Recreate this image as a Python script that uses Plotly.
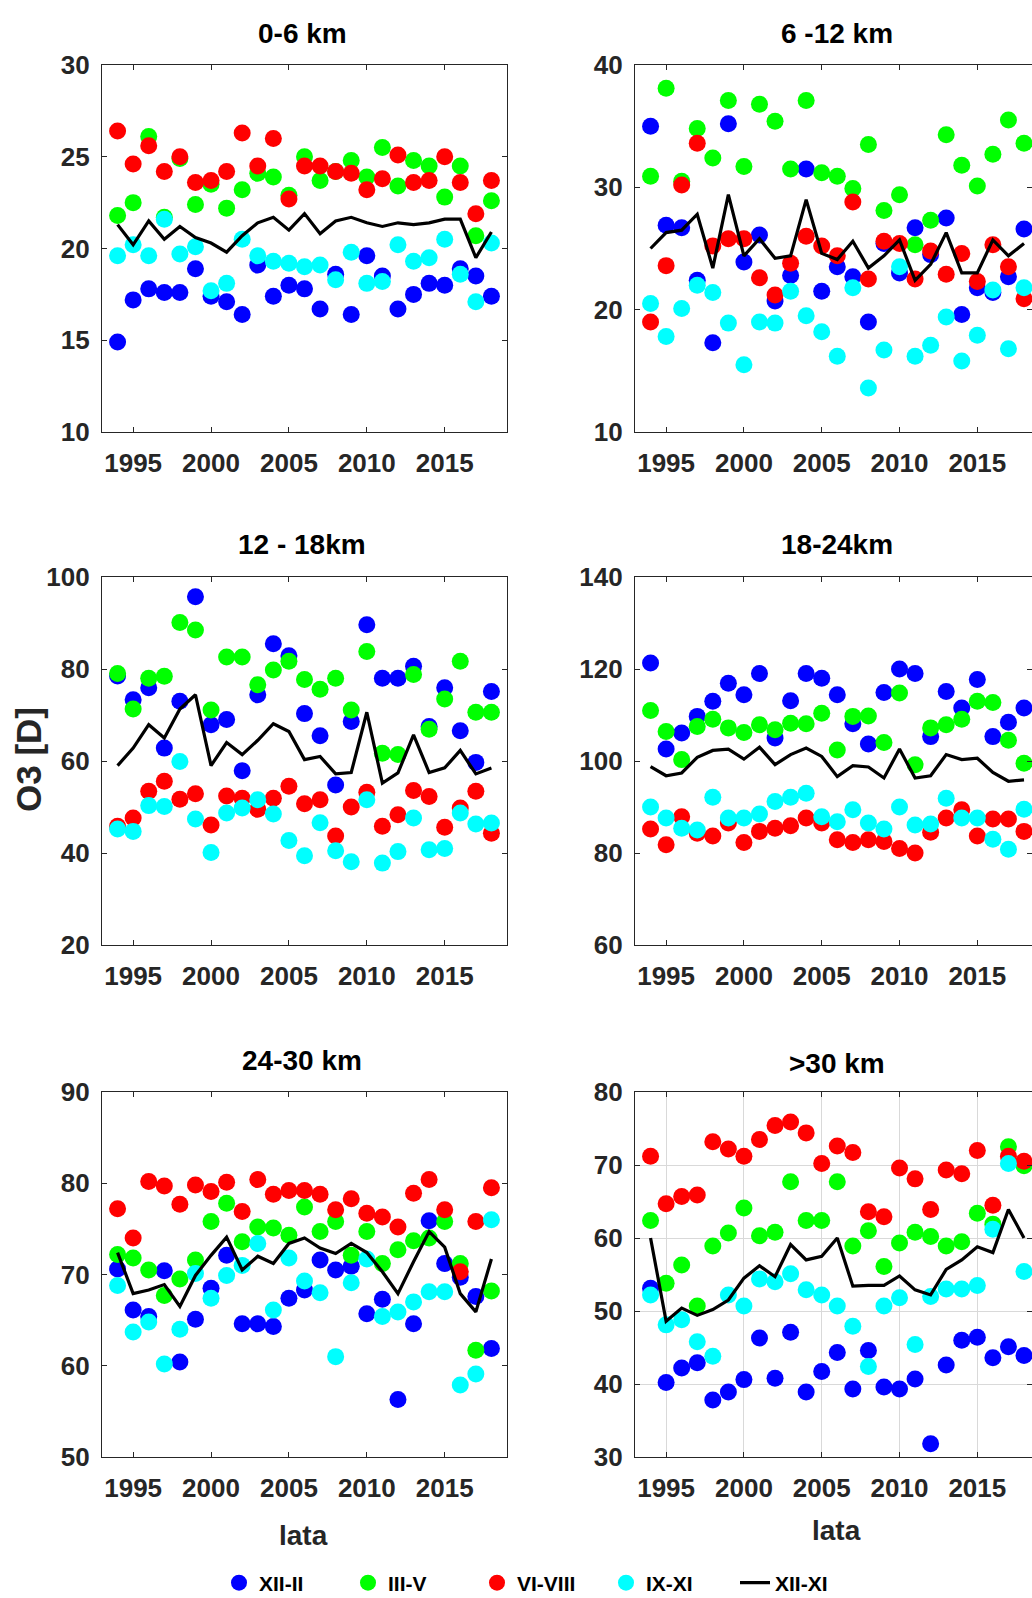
import plotly.graph_objects as go

years = list(range(1994, 2019))
season_names = ["XII-II", "III-V", "VI-VIII", "IX-XI", "XII-XI"]
panel_titles = ["0-6 km", "6 -12 km", "12 - 18km", "18-24km", "24-30 km", ">30 km"]
x_tick_vals = [1995, 2000, 2005, 2010, 2015]
y_ranges = [[10, 30], [10, 40], [20, 100], [60, 140], [50, 90], [30, 80]]
y_tick_vals = [[10, 15, 20, 25, 30], [10, 20, 30, 40], [20, 40, 60, 80, 100],
               [60, 80, 100, 120, 140], [50, 60, 70, 80, 90], [30, 40, 50, 60, 70, 80]]

# ---- 0-6 km ----
p1_blue = [14.9, 17.2, 17.8, 17.6, 17.6, 18.9, 17.4, 17.1, 16.4, 19.1, 17.4, 18.0, 17.8, 16.7, 18.6, 16.4, 19.6, 18.5, 16.7, 17.5, 18.1, 18.0, 18.9, 18.5, 17.4]
p1_green = [21.8, 22.5, 26.1, 21.7, 24.9, 22.4, 23.5, 22.2, 23.2, 24.1, 23.9, 22.9, 25.0, 23.7, 24.2, 24.8, 23.9, 25.5, 23.4, 24.8, 24.5, 22.8, 24.5, 20.7, 22.6]
p1_red = [26.4, 24.6, 25.6, 24.2, 25.0, 23.6, 23.7, 24.2, 26.3, 24.5, 26.0, 22.7, 24.5, 24.5, 24.2, 24.1, 23.2, 23.8, 25.1, 23.6, 23.7, 25.0, 23.6, 21.9, 23.7]
p1_cyan = [19.6, 20.2, 19.6, 21.6, 19.7, 20.1, 17.7, 18.1, 20.5, 19.6, 19.3, 19.2, 19.0, 19.1, 18.3, 19.8, 18.1, 18.2, 20.2, 19.3, 19.5, 20.5, 18.6, 17.1, 20.3]
p1_all = [21.3, 20.2, 21.5, 20.5, 21.2, 20.6, 20.3, 19.8, 20.7, 21.4, 21.7, 21.0, 21.9, 20.8, 21.5, 21.7, 21.4, 21.2, 21.4, 21.3, 21.4, 21.6, 21.6, 19.5, 20.9]

# ---- 6-12 km ----
p2_blue = [35.0, 26.9, 26.7, 22.4, 17.3, 35.2, 23.9, 26.1, 20.7, 22.8, 31.5, 21.5, 23.5, 22.7, 19.0, 25.4, 23.0, 26.7, 24.5, 27.5, 19.6, 21.8, 21.4, 22.7, 26.6]
p2_green = [30.9, 38.1, 30.5, 34.8, 32.4, 37.1, 31.7, 36.8, 35.4, 31.5, 37.1, 31.2, 30.9, 29.9, 33.5, 28.1, 29.4, 25.3, 27.3, 34.3, 31.8, 30.1, 32.7, 35.5, 33.6]
p2_red = [19.0, 23.6, 30.2, 33.6, 25.2, 25.8, 25.8, 22.6, 21.2, 23.8, 26.0, 25.2, 24.4, 28.8, 22.5, 25.6, 25.4, 22.5, 24.8, 22.9, 24.6, 22.3, 25.3, 23.5, 20.9]
p2_cyan = [20.5, 17.8, 20.1, 22.0, 21.4, 18.9, 15.5, 19.0, 18.9, 21.5, 19.5, 18.2, 16.2, 21.8, 13.6, 16.7, 23.5, 16.2, 17.1, 19.4, 15.8, 17.9, 21.6, 16.8, 21.8]
p2_all = [25.0, 26.3, 26.5, 27.8, 23.4, 29.4, 24.4, 25.8, 24.2, 24.4, 29.0, 24.6, 24.1, 25.6, 23.4, 24.4, 25.7, 22.4, 23.7, 26.3, 23.0, 23.0, 25.7, 24.4, 25.4]

# ---- 12-18 km ----
p3_blue = [78.5, 73.3, 75.9, 62.8, 73.0, 95.7, 67.9, 69.0, 57.9, 74.4, 85.5, 82.9, 70.3, 65.5, 54.8, 68.6, 89.6, 78.0, 78.0, 80.6, 67.5, 75.9, 66.6, 59.7, 75.1]
p3_green = [79.0, 71.3, 78.0, 78.4, 90.1, 88.5, 71.1, 82.6, 82.6, 76.6, 79.8, 81.7, 77.7, 75.6, 78.0, 71.1, 83.8, 61.7, 61.4, 78.8, 66.9, 73.5, 81.7, 70.6, 70.6]
p3_red = [45.8, 47.6, 53.4, 55.6, 51.7, 52.9, 46.1, 52.4, 51.9, 49.5, 51.9, 54.5, 50.7, 51.6, 43.7, 50.0, 53.2, 45.8, 48.3, 53.6, 52.3, 45.6, 49.8, 53.4, 44.3]
p3_cyan = [45.2, 44.7, 50.3, 50.1, 59.9, 47.4, 40.1, 48.7, 49.8, 51.6, 48.5, 42.7, 39.4, 46.6, 40.5, 38.1, 51.6, 37.8, 40.3, 47.6, 40.7, 41.0, 48.7, 46.3, 46.5]
p3_all = [59.0, 62.8, 67.9, 65.0, 71.3, 74.4, 59.0, 64.0, 61.4, 64.5, 68.1, 66.4, 60.3, 61.0, 57.2, 57.5, 70.6, 55.2, 57.4, 65.7, 57.5, 58.5, 62.3, 57.2, 58.5]

# ---- 18-24 km ----
p4_blue = [121.3, 102.6, 106.1, 109.7, 113.0, 116.9, 114.4, 119.0, 105.0, 113.1, 119.0, 118.0, 114.4, 108.1, 103.7, 114.9, 120.0, 119.0, 105.3, 115.1, 111.5, 117.7, 105.3, 108.4, 111.5]
p4_green = [111.0, 106.4, 100.3, 107.5, 109.1, 107.2, 106.2, 107.9, 106.8, 108.2, 108.1, 110.4, 102.4, 109.7, 109.8, 104.0, 114.8, 99.2, 107.2, 107.9, 109.1, 113.0, 112.7, 104.5, 99.5]
p4_red = [85.2, 81.8, 87.9, 84.3, 83.7, 86.5, 82.3, 84.7, 85.4, 85.9, 87.6, 86.5, 82.9, 82.3, 82.9, 82.5, 81.0, 80.0, 84.5, 87.6, 89.4, 83.7, 87.4, 87.4, 84.7]
p4_cyan = [90.0, 87.6, 85.4, 85.0, 92.1, 87.6, 87.6, 88.5, 91.2, 92.1, 93.0, 87.9, 86.8, 89.4, 86.5, 85.2, 90.0, 86.1, 86.3, 91.9, 87.6, 87.6, 83.0, 80.8, 89.5]
p4_all = [98.8, 96.8, 97.4, 100.8, 102.3, 102.6, 100.4, 103.0, 99.2, 101.4, 102.8, 101.0, 96.6, 99.0, 98.7, 96.3, 102.6, 96.3, 96.8, 101.4, 100.3, 100.6, 97.5, 95.6, 95.9]

# ---- 24-30 km ----
p5_blue = [70.6, 66.1, 65.4, 70.4, 60.4, 65.1, 68.5, 72.1, 64.6, 64.6, 64.3, 67.4, 68.3, 71.6, 70.5, 70.9, 65.7, 67.3, 56.3, 64.6, 75.9, 71.2, 69.7, 67.6, 61.9]
p5_green = [72.2, 71.8, 70.5, 67.7, 69.5, 71.6, 75.8, 77.8, 73.6, 75.2, 75.1, 74.3, 77.4, 74.7, 75.8, 72.1, 74.7, 71.2, 72.7, 73.7, 74.0, 75.8, 71.2, 61.7, 68.2]
p5_red = [77.2, 74.0, 80.2, 79.7, 77.7, 79.8, 79.1, 80.1, 76.9, 80.4, 78.8, 79.2, 79.2, 78.8, 77.1, 78.3, 76.7, 76.3, 75.2, 78.9, 80.4, 77.1, 70.3, 75.8, 79.5]
p5_cyan = [68.8, 63.7, 64.8, 60.2, 64.0, 70.1, 67.4, 69.9, 71.0, 73.4, 66.1, 71.8, 69.3, 68.0, 61.0, 69.1, 71.7, 65.4, 65.9, 67.0, 68.1, 68.1, 57.9, 59.1, 76.0]
p5_all = [72.4, 67.9, 68.3, 68.9, 66.5, 69.9, 72.1, 74.1, 70.5, 72.0, 71.2, 73.4, 74.0, 72.9, 72.3, 73.4, 72.4, 70.3, 67.9, 71.4, 74.7, 73.0, 67.9, 65.9, 71.7]

# ---- >30 km ----
p6_blue = [53.1, 40.2, 42.2, 42.9, 37.8, 38.9, 40.6, 46.3, 40.8, 47.1, 38.9, 41.7, 44.3, 39.3, 44.6, 39.6, 39.3, 40.7, 31.8, 42.6, 46.0, 46.4, 43.6, 45.1, 43.9]
p6_green = [62.4, 53.8, 56.3, 50.7, 58.9, 60.7, 64.1, 60.3, 60.8, 67.7, 62.4, 62.4, 67.7, 58.9, 61.0, 56.1, 59.3, 60.8, 60.2, 58.9, 59.5, 63.4, 61.9, 72.5, 69.9]
p6_red = [71.2, 64.7, 65.7, 65.9, 73.2, 72.2, 71.2, 73.5, 75.4, 75.9, 74.4, 70.2, 72.6, 71.7, 63.6, 62.9, 69.6, 68.1, 63.9, 69.3, 68.8, 72.0, 64.5, 71.2, 70.5]
p6_cyan = [52.2, 48.1, 48.8, 45.8, 43.8, 52.2, 50.7, 54.4, 54.0, 55.1, 52.9, 52.2, 50.7, 47.9, 42.4, 50.7, 51.8, 45.4, 52.0, 53.0, 53.0, 53.5, 61.2, 70.2, 55.4]
p6_all = [60.0, 48.6, 50.4, 49.4, 50.2, 51.5, 54.5, 56.2, 54.7, 59.1, 57.0, 57.5, 60.0, 53.4, 53.5, 53.5, 54.8, 52.9, 52.2, 55.7, 57.0, 58.8, 58.0, 63.9, 60.0]

panels = [
    (p1_blue, p1_green, p1_red, p1_cyan, p1_all),
    (p2_blue, p2_green, p2_red, p2_cyan, p2_all),
    (p3_blue, p3_green, p3_red, p3_cyan, p3_all),
    (p4_blue, p4_green, p4_red, p4_cyan, p4_all),
    (p5_blue, p5_green, p5_red, p5_cyan, p5_all),
    (p6_blue, p6_green, p6_red, p6_cyan, p6_all),
]

season_colors = ["#0000FF", "#00FF00", "#FF0000", "#00FFFF"]
W, H = 1032, 1598
FONT = "Liberation Sans, Arial, sans-serif"
AX = "#262626"

# panel pixel boxes (left, right, top, bottom)
col_x = [(102, 507), (635, 1032)]
row_y = [(65, 432), (577, 945), (1092, 1457)]
col_xrange = [[1993, 2019], [1993, 1993 + (1032 - 635) / 15.56]]

fig = go.Figure()
layout = {}
for i, series in enumerate(panels):
    r, c = divmod(i, 2)
    n = i + 1
    xa = "x" if n == 1 else f"x{n}"
    ya = "y" if n == 1 else f"y{n}"
    for k in range(4):
        fig.add_trace(go.Scatter(
            x=years, y=series[k], mode="markers", xaxis=xa, yaxis=ya,
            name=season_names[k], legendgroup=season_names[k], showlegend=(i == 0),
            marker=dict(color=season_colors[k], size=17, line=dict(width=0)),
        ))
    fig.add_trace(go.Scatter(
        x=years, y=series[4], mode="lines", xaxis=xa, yaxis=ya,
        name=season_names[4], legendgroup=season_names[4], showlegend=(i == 0),
        line=dict(color="black", width=3.2),
    ))
    x0, x1 = col_x[c]
    t0, t1 = row_y[r]
    grid = (i == 5)
    common = dict(showline=True, linecolor=AX, linewidth=1.2, mirror="allticks",
                  ticks="inside", ticklen=5, tickcolor=AX, tickwidth=1,
                  zeroline=False, showgrid=grid, gridcolor="#d9d9d9", gridwidth=1,
                  automargin=False,
                  tickfont=dict(family=FONT, size=26, color=AX, weight="bold"))
    layout["xaxis" if n == 1 else f"xaxis{n}"] = dict(
        domain=[x0 / W, x1 / W], range=col_xrange[c], tickvals=x_tick_vals,
        anchor=ya, ticklabelstandoff=8, **common)
    layout["yaxis" if n == 1 else f"yaxis{n}"] = dict(
        domain=[1 - t1 / H, 1 - t0 / H], range=y_ranges[i], tickvals=y_tick_vals[i],
        anchor=xa, ticklabelstandoff=6, **common)

fig.update_layout(**layout)

title_pos = [(302, 33), (837, 33), (302, 545), (837, 545), (302, 1060), (837, 1063)]
annotations = []
for t, (px, py) in zip(panel_titles, title_pos):
    annotations.append(dict(text=t, x=px / W, y=1 - py / H, xref="paper", yref="paper",
                            showarrow=False, xanchor="center", yanchor="middle",
                            font=dict(family=FONT, size=28, color="black", weight="bold")))
annotations.append(dict(text="O3 [D]", x=28 / W, y=1 - 760 / H, xref="paper", yref="paper",
                        showarrow=False, textangle=-90, xanchor="center", yanchor="middle",
                        font=dict(family=FONT, size=35, color=AX, weight="bold")))
for px, py in [(303, 1535), (836, 1530)]:
    annotations.append(dict(text="lata", x=px / W, y=1 - py / H, xref="paper", yref="paper",
                            showarrow=False, xanchor="center", yanchor="middle",
                            font=dict(family=FONT, size=28, color=AX, weight="bold")))

fig.update_layout(
    width=W, height=H, margin=dict(l=0, r=0, t=0, b=0, autoexpand=False),
    paper_bgcolor="white", plot_bgcolor="white",
    annotations=annotations,
    legend=dict(orientation="h", x=219 / W, xanchor="left", y=1 - 1583 / H, yanchor="middle",
                entrywidth=84, entrywidthmode="pixels", itemwidth=30,
                font=dict(family=FONT, size=21, color="black", weight="bold"),
                bgcolor="rgba(0,0,0,0)", tracegroupgap=0),
)

fig.write_html("out.html", config={"displayModeBar": False},
               post_script="document.body.style.margin='0px';")
